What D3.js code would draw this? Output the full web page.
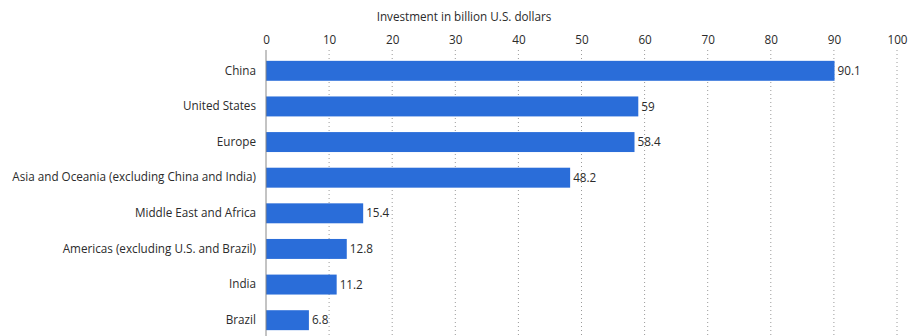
<!DOCTYPE html>
<html>
<head>
<meta charset="utf-8">
<script src="https://cdn.jsdelivr.net/npm/d3@7"></script>
<style>
  html, body { margin: 0; padding: 0; background: #fff; }
  svg { display: block; font-family: "Open Sans", sans-serif; }
</style>
</head>
<body>
<svg id="chart" width="909" height="336"></svg>
<script>
// Regions and investment (billion U.S. dollars)
const regions = [
  "China",
  "United States",
  "Europe",
  "Asia and Oceania (excluding China and India)",
  "Middle East and Africa",
  "Americas (excluding U.S. and Brazil)",
  "India",
  "Brazil"
];
const investment = [90.1, 59, 58.4, 48.2, 15.4, 12.8, 11.2, 6.8];
const xTicks = [0, 10, 20, 30, 40, 50, 60, 70, 80, 90, 100];
const axisTitle = "Investment in billion U.S. dollars";

(function draw() {
  const svg = d3.select("#chart");
  const plotLeft = 266, plotRight = 897, plotTop = 53, plotBottom = 338;
  const fontSize = 11.7;
  const textColor = "#2b2b2b";

  const x = d3.scaleLinear().domain([0, 100]).range([plotLeft, plotRight]);
  const y = d3.scaleBand().domain(regions).range([plotTop, plotBottom])
    .paddingInner(0.44).paddingOuter(0.22);

  // dotted vertical gridlines
  svg.append("g").selectAll("line")
    .data(xTicks.filter(d => d > 0))
    .join("line")
    .attr("x1", d => x(d)).attr("x2", d => x(d))
    .attr("y1", 50).attr("y2", 336)
    .attr("stroke", "#9a9a9a")
    .attr("stroke-width", 1)
    .attr("stroke-dasharray", "1,3");

  // top axis tick labels
  const xAxis = d3.axisTop(x).tickValues(xTicks).tickSize(0).tickPadding(0);
  const gx = svg.append("g").attr("transform", "translate(0,44)").call(xAxis);
  gx.select(".domain").remove();
  gx.selectAll("text")
    .attr("font-family", "Open Sans, sans-serif")
    .attr("font-size", fontSize)
    .attr("fill", textColor);

  svg.append("text")
    .attr("x", 464)
    .attr("y", 21)
    .attr("text-anchor", "middle")
    .attr("font-size", fontSize)
    .attr("fill", textColor)
    .text(axisTitle);

  // bars
  const data = regions.map((r, i) => ({ region: r, value: investment[i] }));
  svg.append("g").selectAll("rect")
    .data(data)
    .join("rect")
    .attr("x", x(0))
    .attr("y", d => y(d.region))
    .attr("width", d => x(d.value) - x(0))
    .attr("height", y.bandwidth())
    .attr("fill", "#2a6dd9");

  // value labels
  svg.append("g").selectAll("text")
    .data(data)
    .join("text")
    .attr("x", d => x(d.value) + 3)
    .attr("y", d => y(d.region) + y.bandwidth() / 2)
    .attr("dy", "0.35em")
    .attr("font-size", fontSize)
    .attr("fill", textColor)
    .text(d => d.value);

  // category axis on the left
  const yAxis = d3.axisLeft(y).tickSize(0).tickPadding(10);
  const gy = svg.append("g").attr("transform", `translate(${plotLeft},0)`).call(yAxis);
  gy.select(".domain").remove();
  gy.selectAll("text")
    .attr("font-family", "Open Sans, sans-serif")
    .attr("font-size", fontSize)
    .attr("fill", textColor);

  // baseline
  svg.append("line")
    .attr("x1", plotLeft).attr("x2", plotLeft)
    .attr("y1", 50).attr("y2", 336)
    .attr("stroke", "#888")
    .attr("stroke-width", 1);
})();
</script>
</body>
</html>
